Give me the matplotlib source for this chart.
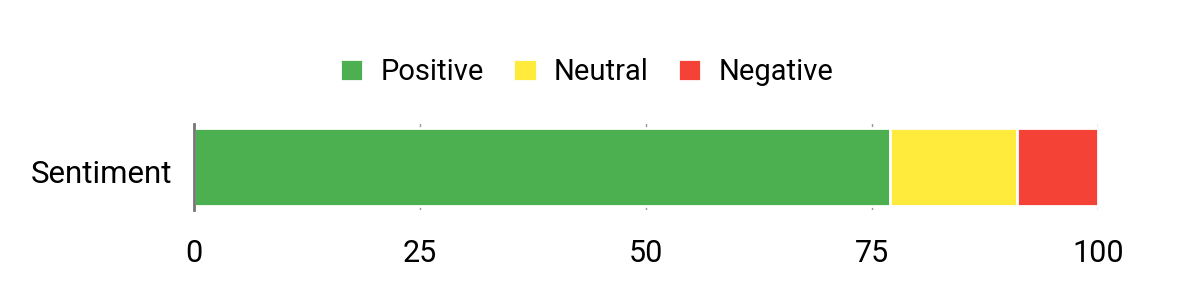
import matplotlib
matplotlib.use('Agg')
from matplotlib import pyplot as plt
from matplotlib.transforms import ScaledTranslation

plt.rcParams['font.family'] = ['Roboto', 'DejaVu Sans']

category = ['Sentiment']
series = ['Positive', 'Neutral', 'Negative']
values = [77, 14, 9]
colors = ['#4CAF50', '#FFEB3B', '#F44336']
ticks = [0, 25, 50, 75, 100]

fig = plt.figure(figsize=(12, 3), dpi=100)
ax = fig.add_axes([0.1617, 0.30, 0.7533, 0.287])

left = 0
for name, val, col in zip(series, values, colors):
    ax.barh(category, [val], left=left, height=0.91, color=col,
            edgecolor='white', linewidth=2, label=name, zorder=2)
    left += val

ax.set_xlim(0, 100)
ax.set_ylim(-0.5, 0.5)
ax.set_xticks(ticks)
ax.grid(axis='x', color='#999999', linewidth=1, zorder=0)
ax.axvline(-0.05, color='#777777', linewidth=2, zorder=3, clip_on=False)
for s in ax.spines.values():
    s.set_visible(False)
ax.tick_params(length=0, labelsize=22, pad=21)
ax.tick_params(axis='y', labelsize=22.5, pad=16)
# nudge the category label down a bit
shift = ScaledTranslation(0, -3 / 72, fig.dpi_scale_trans)
for lbl in ax.get_yticklabels():
    lbl.set_transform(lbl.get_transform() + shift)

fig.legend(loc='center', bbox_to_anchor=(0.489, 0.76), ncol=3, frameon=False,
           fontsize=21, handlelength=0.8, handleheight=0.8, columnspacing=1.0,
           handletextpad=0.6)

fig.savefig('out.png')
